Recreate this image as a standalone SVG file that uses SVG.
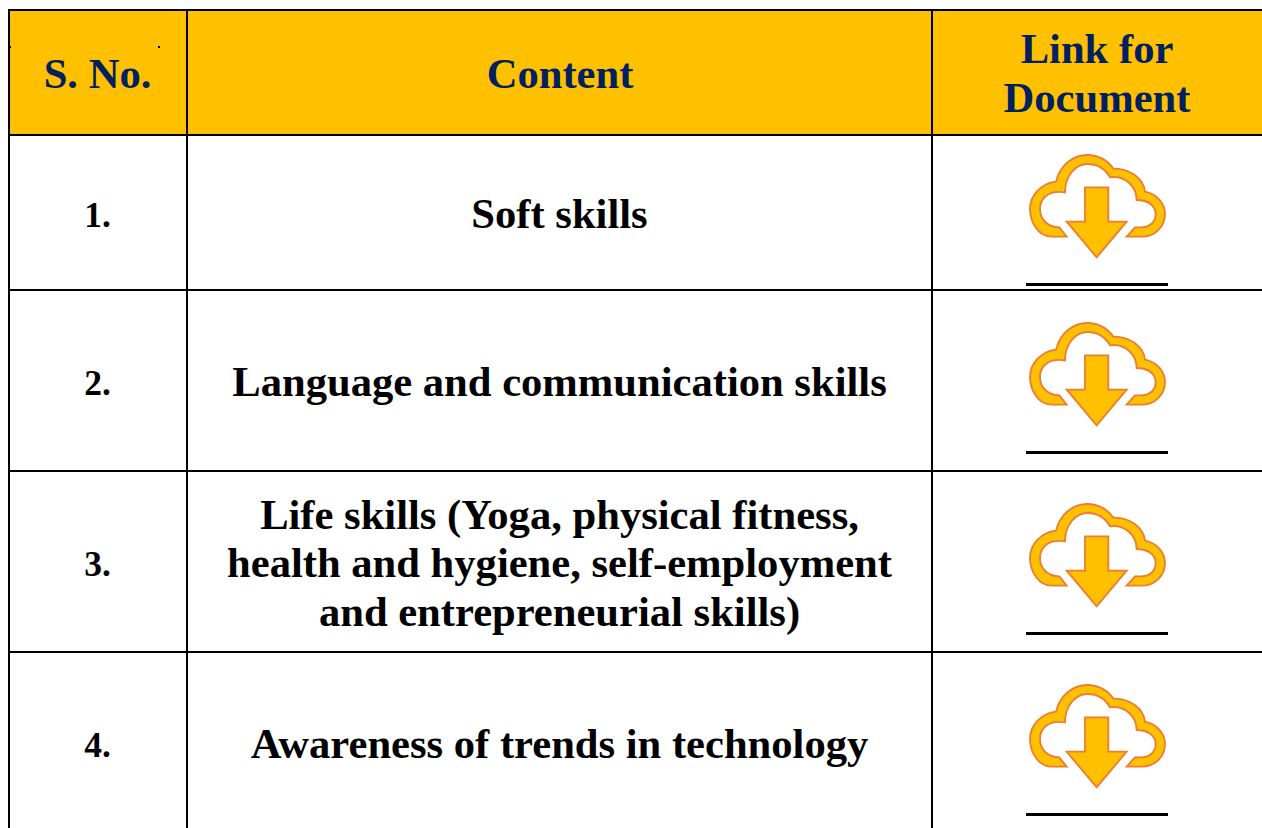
<svg xmlns="http://www.w3.org/2000/svg" width="1262" height="828" viewBox="0 0 1262 828">
<style>
.g{stroke:#000;stroke-width:2;fill:none}
text{font-family:"Liberation Serif","Times New Roman",serif;font-weight:bold;text-anchor:middle}
.h{font-size:42.6px;fill:#002060}
.n{font-size:35.5px;fill:#000}
.c{font-size:42.6px;fill:#000}
.ic{fill:#FFC000;stroke:#ED7D31;stroke-width:5.5;stroke-linejoin:miter}
</style>
<defs>
<g id="icon">
<g transform="translate(1010 140) scale(.3333)">
<path class="ic" d="M170 290H125C88 290 60 250 60 207C60 165 95 130 138 125C150 75 190 45 232 45C265 45 295 62 310 86C360 85 400 115 405 155C440 162 465 190 465 222C465 260 435 290 395 290H350L375 262H395C420 262 437 245 437 222C437 198 415 180 380 180C380 140 345 105 300 112C285 85 260 72 232 72C195 72 165 110 165 157C120 150 90 170 90 207C90 240 115 262 148 262Z"/>
<path class="ic" d="M225 142H295V245H350L260 352L170 245H225Z"/>
</g>
<rect x="1026" y="283" width="142" height="3" fill="#000"/>
</g>
</defs>
<rect width="1262" height="828" fill="#fff"/>
<rect x="9" y="10" width="1253" height="125" fill="#FFC000"/>
<g id="grid">
<path class="g" d="M8 10H1262M9 135H1262M9 290H1262M9 471H1262M9 652H1262M9 10V828M187 10V828M932 10V828"/>
<rect x="9" y="46" width="2" height="2" fill="#000"/><rect x="158" y="46" width="2" height="2" fill="#000"/>
</g>
<g id="header">
<text class="h" x="97.500" y="88">S. No.</text>
<text class="h" x="560" y="88">Content</text>
<text class="h" x="1097" y="63">Link for</text>
<text class="h" x="1097" y="112">Document</text>
</g>
<g id="row1"><text class="n" x="97.500" y="226.500">1.</text><text class="c" x="559.500" y="228">Soft skills</text><use href="#icon"/></g>
<g id="row2"><text class="n" x="97.500" y="394.500">2.</text><text class="c" x="559.500" y="396">Language and communication skills</text><use href="#icon" y="168"/></g>
<g id="row3"><text class="n" x="97.500" y="575.500">3.</text><text class="c" x="559.500" y="529">Life skills (Yoga, physical fitness,</text><text class="c" x="559.500" y="577">health and hygiene, self-employment</text><text class="c" x="559.500" y="626">and entrepreneurial skills)</text><use href="#icon" y="349"/></g>
<g id="row4"><text class="n" x="97.500" y="756.500">4.</text><text class="c" x="559.500" y="758">Awareness of trends in technology</text><use href="#icon" y="530"/></g>
</svg>
